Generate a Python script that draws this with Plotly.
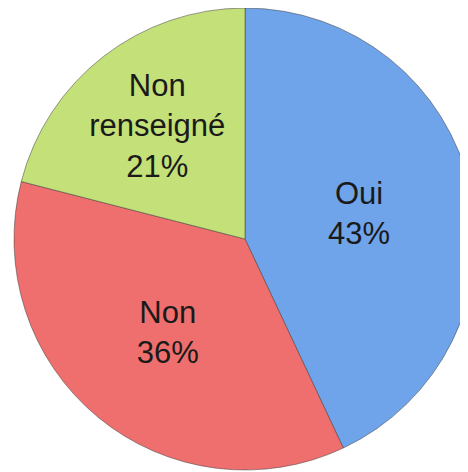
import plotly.graph_objects as go

labels = ["Oui", "Non", "Non<br>renseigné"]
values = [43, 36, 21]
colors = ["#70a4ea", "#ee6f6d", "#c3e079"]

fig = go.Figure(go.Pie(
    labels=labels,
    values=values,
    sort=False,
    direction="clockwise",
    rotation=0,
    marker=dict(colors=colors, line=dict(color="rgba(60,60,60,0.5)", width=1)),
    texttemplate="%{label}<br>%{percent:.0%}",
    textposition="inside",
    insidetextorientation="horizontal",
    textfont=dict(family="Liberation Sans, Arial, sans-serif", size=31, color="#1a1a1a"),
    hoverinfo="label+percent",
    showlegend=False,
))

fig.update_layout(
    width=468,
    height=472,
    margin=dict(l=6, r=0, t=0, b=10),
    paper_bgcolor="white",
    plot_bgcolor="white",
    uniformtext=dict(minsize=31, mode="show"),
)

fig.write_html("out.html")
